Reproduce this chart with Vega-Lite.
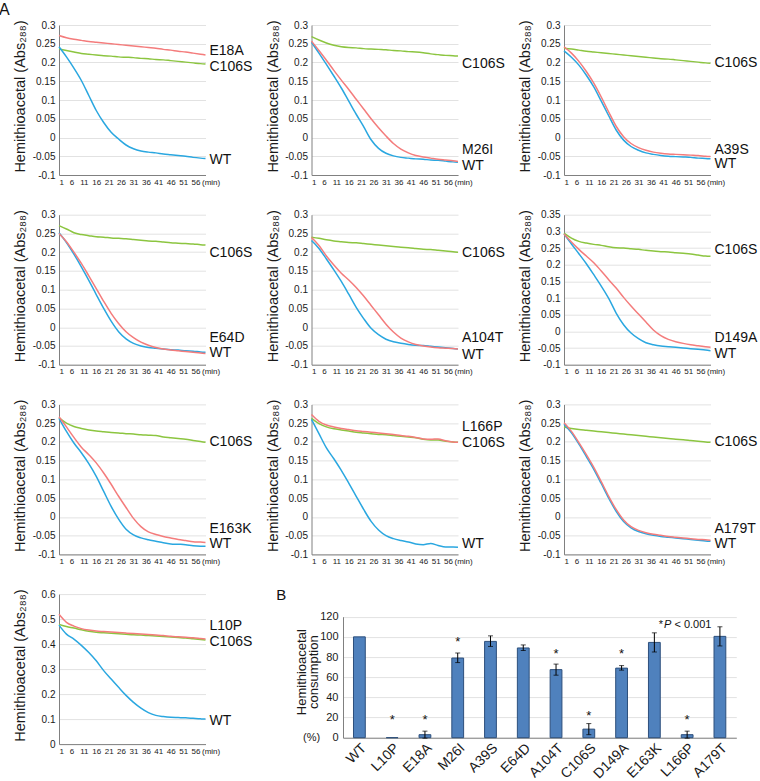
{
"$schema": "https://vega.github.io/schema/vega-lite/v6.json",
"padding": {"left": -1, "top": 1, "right": 0, "bottom": 0},
"config": {
 "font": "Liberation Sans",
 "view": {"stroke": null},
 "axis": {"ticks": false, "labelOverlap": false, "domainColor": "#808080", "domainWidth": 1, "gridColor": "#e2e2e2", "gridWidth": 1, "labelColor": "#1a1a1a", "titleColor": "#1a1a1a", "titleFontWeight": "normal", "labelFont": "Liberation Sans", "titleFont": "Liberation Sans"},
 "axisX": {"grid": false, "labelFontSize": 8, "labelPadding": 3, "titleFontSize": 8, "titleAngle": 0, "titleAlign": "left", "titleBaseline": "top", "titleX": 142.5, "titleY": 3, "labelFlush": true},
 "axisY": {"grid": true, "labelFontSize": 10, "labelPadding": 4, "titleFontSize": 14.5, "titleX": -38.5, "titleY": 71, "titleBaseline": "middle", "titleAngle": -90, "titleAlign": "center", "labelExpr": "'' + datum.value"},
 "title": {"font": "Liberation Sans", "fontWeight": "normal", "anchor": "start", "frame": "group", "color": "#111"},
 "text": {"font": "Liberation Sans", "color": "#111"}
},
"datasets": {
 "lines": [
{"p":"E18A","s":"C106S","t":1,"v":0.236},{"p":"E18A","s":"C106S","t":4,"v":0.232},{"p":"E18A","s":"C106S","t":7,"v":0.228},{"p":"E18A","s":"C106S","t":10,"v":0.224},{"p":"E18A","s":"C106S","t":13,"v":0.222},{"p":"E18A","s":"C106S","t":16,"v":0.22},{"p":"E18A","s":"C106S","t":19,"v":0.218},{"p":"E18A","s":"C106S","t":22,"v":0.217},{"p":"E18A","s":"C106S","t":25,"v":0.215},{"p":"E18A","s":"C106S","t":28,"v":0.214},{"p":"E18A","s":"C106S","t":31,"v":0.213},{"p":"E18A","s":"C106S","t":34,"v":0.211},{"p":"E18A","s":"C106S","t":37,"v":0.21},{"p":"E18A","s":"C106S","t":40,"v":0.208},{"p":"E18A","s":"C106S","t":43,"v":0.207},{"p":"E18A","s":"C106S","t":46,"v":0.205},{"p":"E18A","s":"C106S","t":49,"v":0.203},{"p":"E18A","s":"C106S","t":52,"v":0.201},{"p":"E18A","s":"C106S","t":55,"v":0.199},{"p":"E18A","s":"C106S","t":58,"v":0.197},{"p":"E18A","s":"C106S","t":60,"v":0.196},
{"p":"E18A","s":"WT","t":1,"v":0.242},{"p":"E18A","s":"WT","t":4,"v":0.215},{"p":"E18A","s":"WT","t":7,"v":0.185},{"p":"E18A","s":"WT","t":10,"v":0.152},{"p":"E18A","s":"WT","t":13,"v":0.112},{"p":"E18A","s":"WT","t":16,"v":0.072},{"p":"E18A","s":"WT","t":19,"v":0.04},{"p":"E18A","s":"WT","t":22,"v":0.014},{"p":"E18A","s":"WT","t":25,"v":-0.004},{"p":"E18A","s":"WT","t":28,"v":-0.02},{"p":"E18A","s":"WT","t":31,"v":-0.03},{"p":"E18A","s":"WT","t":34,"v":-0.036},{"p":"E18A","s":"WT","t":37,"v":-0.039},{"p":"E18A","s":"WT","t":40,"v":-0.041},{"p":"E18A","s":"WT","t":43,"v":-0.044},{"p":"E18A","s":"WT","t":46,"v":-0.046},{"p":"E18A","s":"WT","t":49,"v":-0.048},{"p":"E18A","s":"WT","t":52,"v":-0.05},{"p":"E18A","s":"WT","t":55,"v":-0.053},{"p":"E18A","s":"WT","t":58,"v":-0.055},{"p":"E18A","s":"WT","t":60,"v":-0.056},
{"p":"E18A","s":"E18A","t":1,"v":0.272},{"p":"E18A","s":"E18A","t":4,"v":0.266},{"p":"E18A","s":"E18A","t":7,"v":0.262},{"p":"E18A","s":"E18A","t":10,"v":0.259},{"p":"E18A","s":"E18A","t":13,"v":0.256},{"p":"E18A","s":"E18A","t":16,"v":0.254},{"p":"E18A","s":"E18A","t":19,"v":0.252},{"p":"E18A","s":"E18A","t":22,"v":0.25},{"p":"E18A","s":"E18A","t":25,"v":0.248},{"p":"E18A","s":"E18A","t":28,"v":0.246},{"p":"E18A","s":"E18A","t":31,"v":0.244},{"p":"E18A","s":"E18A","t":34,"v":0.242},{"p":"E18A","s":"E18A","t":37,"v":0.24},{"p":"E18A","s":"E18A","t":40,"v":0.238},{"p":"E18A","s":"E18A","t":43,"v":0.235},{"p":"E18A","s":"E18A","t":46,"v":0.233},{"p":"E18A","s":"E18A","t":49,"v":0.23},{"p":"E18A","s":"E18A","t":52,"v":0.228},{"p":"E18A","s":"E18A","t":55,"v":0.225},{"p":"E18A","s":"E18A","t":58,"v":0.222},{"p":"E18A","s":"E18A","t":60,"v":0.22},
{"p":"M26I","s":"C106S","t":1,"v":0.269},{"p":"M26I","s":"C106S","t":4,"v":0.26},{"p":"M26I","s":"C106S","t":7,"v":0.252},{"p":"M26I","s":"C106S","t":10,"v":0.246},{"p":"M26I","s":"C106S","t":13,"v":0.242},{"p":"M26I","s":"C106S","t":16,"v":0.24},{"p":"M26I","s":"C106S","t":19,"v":0.239},{"p":"M26I","s":"C106S","t":22,"v":0.237},{"p":"M26I","s":"C106S","t":25,"v":0.236},{"p":"M26I","s":"C106S","t":28,"v":0.235},{"p":"M26I","s":"C106S","t":31,"v":0.234},{"p":"M26I","s":"C106S","t":34,"v":0.232},{"p":"M26I","s":"C106S","t":37,"v":0.231},{"p":"M26I","s":"C106S","t":40,"v":0.229},{"p":"M26I","s":"C106S","t":43,"v":0.228},{"p":"M26I","s":"C106S","t":46,"v":0.226},{"p":"M26I","s":"C106S","t":49,"v":0.223},{"p":"M26I","s":"C106S","t":52,"v":0.221},{"p":"M26I","s":"C106S","t":55,"v":0.219},{"p":"M26I","s":"C106S","t":58,"v":0.218},{"p":"M26I","s":"C106S","t":60,"v":0.217},
{"p":"M26I","s":"WT","t":1,"v":0.254},{"p":"M26I","s":"WT","t":4,"v":0.225},{"p":"M26I","s":"WT","t":7,"v":0.195},{"p":"M26I","s":"WT","t":10,"v":0.164},{"p":"M26I","s":"WT","t":13,"v":0.132},{"p":"M26I","s":"WT","t":16,"v":0.097},{"p":"M26I","s":"WT","t":19,"v":0.062},{"p":"M26I","s":"WT","t":22,"v":0.029},{"p":"M26I","s":"WT","t":25,"v":-0.006},{"p":"M26I","s":"WT","t":28,"v":-0.029},{"p":"M26I","s":"WT","t":31,"v":-0.042},{"p":"M26I","s":"WT","t":34,"v":-0.049},{"p":"M26I","s":"WT","t":37,"v":-0.053},{"p":"M26I","s":"WT","t":40,"v":-0.055},{"p":"M26I","s":"WT","t":43,"v":-0.057},{"p":"M26I","s":"WT","t":46,"v":-0.058},{"p":"M26I","s":"WT","t":49,"v":-0.06},{"p":"M26I","s":"WT","t":52,"v":-0.061},{"p":"M26I","s":"WT","t":55,"v":-0.063},{"p":"M26I","s":"WT","t":58,"v":-0.065},{"p":"M26I","s":"WT","t":60,"v":-0.066},
{"p":"M26I","s":"M26I","t":1,"v":0.257},{"p":"M26I","s":"M26I","t":4,"v":0.232},{"p":"M26I","s":"M26I","t":7,"v":0.206},{"p":"M26I","s":"M26I","t":10,"v":0.179},{"p":"M26I","s":"M26I","t":13,"v":0.153},{"p":"M26I","s":"M26I","t":16,"v":0.128},{"p":"M26I","s":"M26I","t":19,"v":0.102},{"p":"M26I","s":"M26I","t":22,"v":0.076},{"p":"M26I","s":"M26I","t":25,"v":0.05},{"p":"M26I","s":"M26I","t":28,"v":0.026},{"p":"M26I","s":"M26I","t":31,"v":0.004},{"p":"M26I","s":"M26I","t":34,"v":-0.016},{"p":"M26I","s":"M26I","t":37,"v":-0.031},{"p":"M26I","s":"M26I","t":40,"v":-0.041},{"p":"M26I","s":"M26I","t":43,"v":-0.048},{"p":"M26I","s":"M26I","t":46,"v":-0.052},{"p":"M26I","s":"M26I","t":49,"v":-0.055},{"p":"M26I","s":"M26I","t":52,"v":-0.058},{"p":"M26I","s":"M26I","t":55,"v":-0.06},{"p":"M26I","s":"M26I","t":58,"v":-0.062},{"p":"M26I","s":"M26I","t":60,"v":-0.064},
{"p":"A39S","s":"C106S","t":1,"v":0.238},{"p":"A39S","s":"C106S","t":4,"v":0.236},{"p":"A39S","s":"C106S","t":7,"v":0.233},{"p":"A39S","s":"C106S","t":10,"v":0.23},{"p":"A39S","s":"C106S","t":13,"v":0.228},{"p":"A39S","s":"C106S","t":16,"v":0.226},{"p":"A39S","s":"C106S","t":19,"v":0.224},{"p":"A39S","s":"C106S","t":22,"v":0.222},{"p":"A39S","s":"C106S","t":25,"v":0.22},{"p":"A39S","s":"C106S","t":28,"v":0.218},{"p":"A39S","s":"C106S","t":31,"v":0.216},{"p":"A39S","s":"C106S","t":34,"v":0.214},{"p":"A39S","s":"C106S","t":37,"v":0.212},{"p":"A39S","s":"C106S","t":40,"v":0.21},{"p":"A39S","s":"C106S","t":43,"v":0.209},{"p":"A39S","s":"C106S","t":46,"v":0.207},{"p":"A39S","s":"C106S","t":49,"v":0.205},{"p":"A39S","s":"C106S","t":52,"v":0.203},{"p":"A39S","s":"C106S","t":55,"v":0.201},{"p":"A39S","s":"C106S","t":58,"v":0.199},{"p":"A39S","s":"C106S","t":60,"v":0.198},
{"p":"A39S","s":"WT","t":1,"v":0.231},{"p":"A39S","s":"WT","t":4,"v":0.214},{"p":"A39S","s":"WT","t":7,"v":0.193},{"p":"A39S","s":"WT","t":10,"v":0.166},{"p":"A39S","s":"WT","t":13,"v":0.135},{"p":"A39S","s":"WT","t":16,"v":0.097},{"p":"A39S","s":"WT","t":19,"v":0.058},{"p":"A39S","s":"WT","t":22,"v":0.02},{"p":"A39S","s":"WT","t":25,"v":-0.007},{"p":"A39S","s":"WT","t":28,"v":-0.024},{"p":"A39S","s":"WT","t":31,"v":-0.034},{"p":"A39S","s":"WT","t":34,"v":-0.041},{"p":"A39S","s":"WT","t":37,"v":-0.045},{"p":"A39S","s":"WT","t":40,"v":-0.048},{"p":"A39S","s":"WT","t":43,"v":-0.05},{"p":"A39S","s":"WT","t":46,"v":-0.051},{"p":"A39S","s":"WT","t":49,"v":-0.052},{"p":"A39S","s":"WT","t":52,"v":-0.053},{"p":"A39S","s":"WT","t":55,"v":-0.055},{"p":"A39S","s":"WT","t":58,"v":-0.056},{"p":"A39S","s":"WT","t":60,"v":-0.057},
{"p":"A39S","s":"A39S","t":1,"v":0.242},{"p":"A39S","s":"A39S","t":4,"v":0.225},{"p":"A39S","s":"A39S","t":7,"v":0.203},{"p":"A39S","s":"A39S","t":10,"v":0.176},{"p":"A39S","s":"A39S","t":13,"v":0.145},{"p":"A39S","s":"A39S","t":16,"v":0.108},{"p":"A39S","s":"A39S","t":19,"v":0.068},{"p":"A39S","s":"A39S","t":22,"v":0.03},{"p":"A39S","s":"A39S","t":25,"v":0.002},{"p":"A39S","s":"A39S","t":28,"v":-0.016},{"p":"A39S","s":"A39S","t":31,"v":-0.027},{"p":"A39S","s":"A39S","t":34,"v":-0.034},{"p":"A39S","s":"A39S","t":37,"v":-0.039},{"p":"A39S","s":"A39S","t":40,"v":-0.042},{"p":"A39S","s":"A39S","t":43,"v":-0.044},{"p":"A39S","s":"A39S","t":46,"v":-0.045},{"p":"A39S","s":"A39S","t":49,"v":-0.046},{"p":"A39S","s":"A39S","t":52,"v":-0.047},{"p":"A39S","s":"A39S","t":55,"v":-0.048},{"p":"A39S","s":"A39S","t":58,"v":-0.05},{"p":"A39S","s":"A39S","t":60,"v":-0.051},
{"p":"E64D","s":"C106S","t":1,"v":0.271},{"p":"E64D","s":"C106S","t":4,"v":0.262},{"p":"E64D","s":"C106S","t":7,"v":0.252},{"p":"E64D","s":"C106S","t":10,"v":0.247},{"p":"E64D","s":"C106S","t":13,"v":0.244},{"p":"E64D","s":"C106S","t":16,"v":0.241},{"p":"E64D","s":"C106S","t":19,"v":0.24},{"p":"E64D","s":"C106S","t":22,"v":0.238},{"p":"E64D","s":"C106S","t":25,"v":0.237},{"p":"E64D","s":"C106S","t":28,"v":0.236},{"p":"E64D","s":"C106S","t":31,"v":0.234},{"p":"E64D","s":"C106S","t":34,"v":0.232},{"p":"E64D","s":"C106S","t":37,"v":0.23},{"p":"E64D","s":"C106S","t":40,"v":0.229},{"p":"E64D","s":"C106S","t":43,"v":0.227},{"p":"E64D","s":"C106S","t":46,"v":0.225},{"p":"E64D","s":"C106S","t":49,"v":0.224},{"p":"E64D","s":"C106S","t":52,"v":0.223},{"p":"E64D","s":"C106S","t":55,"v":0.222},{"p":"E64D","s":"C106S","t":58,"v":0.22},{"p":"E64D","s":"C106S","t":60,"v":0.219},
{"p":"E64D","s":"WT","t":1,"v":0.252},{"p":"E64D","s":"WT","t":4,"v":0.226},{"p":"E64D","s":"WT","t":7,"v":0.195},{"p":"E64D","s":"WT","t":10,"v":0.161},{"p":"E64D","s":"WT","t":13,"v":0.125},{"p":"E64D","s":"WT","t":16,"v":0.087},{"p":"E64D","s":"WT","t":19,"v":0.05},{"p":"E64D","s":"WT","t":22,"v":0.016},{"p":"E64D","s":"WT","t":25,"v":-0.012},{"p":"E64D","s":"WT","t":28,"v":-0.031},{"p":"E64D","s":"WT","t":31,"v":-0.043},{"p":"E64D","s":"WT","t":34,"v":-0.05},{"p":"E64D","s":"WT","t":37,"v":-0.054},{"p":"E64D","s":"WT","t":40,"v":-0.056},{"p":"E64D","s":"WT","t":43,"v":-0.058},{"p":"E64D","s":"WT","t":46,"v":-0.06},{"p":"E64D","s":"WT","t":49,"v":-0.061},{"p":"E64D","s":"WT","t":52,"v":-0.063},{"p":"E64D","s":"WT","t":55,"v":-0.064},{"p":"E64D","s":"WT","t":58,"v":-0.066},{"p":"E64D","s":"WT","t":60,"v":-0.067},
{"p":"E64D","s":"E64D","t":1,"v":0.25},{"p":"E64D","s":"E64D","t":4,"v":0.228},{"p":"E64D","s":"E64D","t":7,"v":0.2},{"p":"E64D","s":"E64D","t":10,"v":0.17},{"p":"E64D","s":"E64D","t":13,"v":0.137},{"p":"E64D","s":"E64D","t":16,"v":0.103},{"p":"E64D","s":"E64D","t":19,"v":0.069},{"p":"E64D","s":"E64D","t":22,"v":0.037},{"p":"E64D","s":"E64D","t":25,"v":0.01},{"p":"E64D","s":"E64D","t":28,"v":-0.012},{"p":"E64D","s":"E64D","t":31,"v":-0.028},{"p":"E64D","s":"E64D","t":34,"v":-0.04},{"p":"E64D","s":"E64D","t":37,"v":-0.048},{"p":"E64D","s":"E64D","t":40,"v":-0.054},{"p":"E64D","s":"E64D","t":43,"v":-0.058},{"p":"E64D","s":"E64D","t":46,"v":-0.061},{"p":"E64D","s":"E64D","t":49,"v":-0.063},{"p":"E64D","s":"E64D","t":52,"v":-0.065},{"p":"E64D","s":"E64D","t":55,"v":-0.067},{"p":"E64D","s":"E64D","t":58,"v":-0.069},{"p":"E64D","s":"E64D","t":60,"v":-0.07},
{"p":"A104T","s":"C106S","t":1,"v":0.24},{"p":"A104T","s":"C106S","t":4,"v":0.237},{"p":"A104T","s":"C106S","t":7,"v":0.233},{"p":"A104T","s":"C106S","t":10,"v":0.23},{"p":"A104T","s":"C106S","t":13,"v":0.228},{"p":"A104T","s":"C106S","t":16,"v":0.226},{"p":"A104T","s":"C106S","t":19,"v":0.225},{"p":"A104T","s":"C106S","t":22,"v":0.223},{"p":"A104T","s":"C106S","t":25,"v":0.221},{"p":"A104T","s":"C106S","t":28,"v":0.219},{"p":"A104T","s":"C106S","t":31,"v":0.217},{"p":"A104T","s":"C106S","t":34,"v":0.215},{"p":"A104T","s":"C106S","t":37,"v":0.213},{"p":"A104T","s":"C106S","t":40,"v":0.212},{"p":"A104T","s":"C106S","t":43,"v":0.21},{"p":"A104T","s":"C106S","t":46,"v":0.208},{"p":"A104T","s":"C106S","t":49,"v":0.207},{"p":"A104T","s":"C106S","t":52,"v":0.205},{"p":"A104T","s":"C106S","t":55,"v":0.203},{"p":"A104T","s":"C106S","t":58,"v":0.201},{"p":"A104T","s":"C106S","t":60,"v":0.2},
{"p":"A104T","s":"WT","t":1,"v":0.231},{"p":"A104T","s":"WT","t":4,"v":0.21},{"p":"A104T","s":"WT","t":7,"v":0.182},{"p":"A104T","s":"WT","t":10,"v":0.153},{"p":"A104T","s":"WT","t":13,"v":0.122},{"p":"A104T","s":"WT","t":16,"v":0.088},{"p":"A104T","s":"WT","t":19,"v":0.053},{"p":"A104T","s":"WT","t":22,"v":0.023},{"p":"A104T","s":"WT","t":25,"v":-0.003},{"p":"A104T","s":"WT","t":28,"v":-0.02},{"p":"A104T","s":"WT","t":31,"v":-0.032},{"p":"A104T","s":"WT","t":34,"v":-0.039},{"p":"A104T","s":"WT","t":37,"v":-0.043},{"p":"A104T","s":"WT","t":40,"v":-0.046},{"p":"A104T","s":"WT","t":43,"v":-0.048},{"p":"A104T","s":"WT","t":46,"v":-0.049},{"p":"A104T","s":"WT","t":49,"v":-0.051},{"p":"A104T","s":"WT","t":52,"v":-0.053},{"p":"A104T","s":"WT","t":55,"v":-0.055},{"p":"A104T","s":"WT","t":58,"v":-0.057},{"p":"A104T","s":"WT","t":60,"v":-0.058},
{"p":"A104T","s":"A104T","t":1,"v":0.239},{"p":"A104T","s":"A104T","t":4,"v":0.218},{"p":"A104T","s":"A104T","t":7,"v":0.19},{"p":"A104T","s":"A104T","t":10,"v":0.166},{"p":"A104T","s":"A104T","t":13,"v":0.144},{"p":"A104T","s":"A104T","t":16,"v":0.126},{"p":"A104T","s":"A104T","t":19,"v":0.106},{"p":"A104T","s":"A104T","t":22,"v":0.083},{"p":"A104T","s":"A104T","t":25,"v":0.058},{"p":"A104T","s":"A104T","t":28,"v":0.033},{"p":"A104T","s":"A104T","t":31,"v":0.008},{"p":"A104T","s":"A104T","t":34,"v":-0.013},{"p":"A104T","s":"A104T","t":37,"v":-0.029},{"p":"A104T","s":"A104T","t":40,"v":-0.039},{"p":"A104T","s":"A104T","t":43,"v":-0.046},{"p":"A104T","s":"A104T","t":46,"v":-0.05},{"p":"A104T","s":"A104T","t":49,"v":-0.053},{"p":"A104T","s":"A104T","t":52,"v":-0.055},{"p":"A104T","s":"A104T","t":55,"v":-0.056},{"p":"A104T","s":"A104T","t":58,"v":-0.057},{"p":"A104T","s":"A104T","t":60,"v":-0.058},
{"p":"D149A","s":"C106S","t":1,"v":0.295},{"p":"D149A","s":"C106S","t":4,"v":0.28},{"p":"D149A","s":"C106S","t":7,"v":0.27},{"p":"D149A","s":"C106S","t":10,"v":0.265},{"p":"D149A","s":"C106S","t":13,"v":0.261},{"p":"D149A","s":"C106S","t":16,"v":0.258},{"p":"D149A","s":"C106S","t":19,"v":0.254},{"p":"D149A","s":"C106S","t":22,"v":0.251},{"p":"D149A","s":"C106S","t":25,"v":0.25},{"p":"D149A","s":"C106S","t":28,"v":0.248},{"p":"D149A","s":"C106S","t":31,"v":0.246},{"p":"D149A","s":"C106S","t":34,"v":0.243},{"p":"D149A","s":"C106S","t":37,"v":0.241},{"p":"D149A","s":"C106S","t":40,"v":0.239},{"p":"D149A","s":"C106S","t":43,"v":0.238},{"p":"D149A","s":"C106S","t":46,"v":0.236},{"p":"D149A","s":"C106S","t":49,"v":0.234},{"p":"D149A","s":"C106S","t":52,"v":0.232},{"p":"D149A","s":"C106S","t":55,"v":0.229},{"p":"D149A","s":"C106S","t":58,"v":0.226},{"p":"D149A","s":"C106S","t":60,"v":0.225},
{"p":"D149A","s":"WT","t":1,"v":0.292},{"p":"D149A","s":"WT","t":4,"v":0.262},{"p":"D149A","s":"WT","t":7,"v":0.233},{"p":"D149A","s":"WT","t":10,"v":0.203},{"p":"D149A","s":"WT","t":13,"v":0.17},{"p":"D149A","s":"WT","t":16,"v":0.136},{"p":"D149A","s":"WT","t":19,"v":0.099},{"p":"D149A","s":"WT","t":22,"v":0.055},{"p":"D149A","s":"WT","t":25,"v":0.02},{"p":"D149A","s":"WT","t":28,"v":-0.005},{"p":"D149A","s":"WT","t":31,"v":-0.022},{"p":"D149A","s":"WT","t":34,"v":-0.034},{"p":"D149A","s":"WT","t":37,"v":-0.04},{"p":"D149A","s":"WT","t":40,"v":-0.044},{"p":"D149A","s":"WT","t":43,"v":-0.046},{"p":"D149A","s":"WT","t":46,"v":-0.048},{"p":"D149A","s":"WT","t":49,"v":-0.05},{"p":"D149A","s":"WT","t":52,"v":-0.052},{"p":"D149A","s":"WT","t":55,"v":-0.054},{"p":"D149A","s":"WT","t":58,"v":-0.056},{"p":"D149A","s":"WT","t":60,"v":-0.058},
{"p":"D149A","s":"D149A","t":1,"v":0.292},{"p":"D149A","s":"D149A","t":4,"v":0.268},{"p":"D149A","s":"D149A","t":7,"v":0.246},{"p":"D149A","s":"D149A","t":10,"v":0.226},{"p":"D149A","s":"D149A","t":13,"v":0.206},{"p":"D149A","s":"D149A","t":16,"v":0.181},{"p":"D149A","s":"D149A","t":19,"v":0.155},{"p":"D149A","s":"D149A","t":22,"v":0.13},{"p":"D149A","s":"D149A","t":25,"v":0.102},{"p":"D149A","s":"D149A","t":28,"v":0.076},{"p":"D149A","s":"D149A","t":31,"v":0.052},{"p":"D149A","s":"D149A","t":34,"v":0.028},{"p":"D149A","s":"D149A","t":37,"v":0.004},{"p":"D149A","s":"D149A","t":40,"v":-0.013},{"p":"D149A","s":"D149A","t":43,"v":-0.024},{"p":"D149A","s":"D149A","t":46,"v":-0.031},{"p":"D149A","s":"D149A","t":49,"v":-0.036},{"p":"D149A","s":"D149A","t":52,"v":-0.04},{"p":"D149A","s":"D149A","t":55,"v":-0.043},{"p":"D149A","s":"D149A","t":58,"v":-0.046},{"p":"D149A","s":"D149A","t":60,"v":-0.048},
{"p":"E163K","s":"C106S","t":1,"v":0.264},{"p":"E163K","s":"C106S","t":4,"v":0.25},{"p":"E163K","s":"C106S","t":7,"v":0.241},{"p":"E163K","s":"C106S","t":10,"v":0.236},{"p":"E163K","s":"C106S","t":13,"v":0.232},{"p":"E163K","s":"C106S","t":16,"v":0.229},{"p":"E163K","s":"C106S","t":19,"v":0.227},{"p":"E163K","s":"C106S","t":22,"v":0.225},{"p":"E163K","s":"C106S","t":25,"v":0.224},{"p":"E163K","s":"C106S","t":28,"v":0.222},{"p":"E163K","s":"C106S","t":31,"v":0.221},{"p":"E163K","s":"C106S","t":34,"v":0.219},{"p":"E163K","s":"C106S","t":37,"v":0.218},{"p":"E163K","s":"C106S","t":40,"v":0.217},{"p":"E163K","s":"C106S","t":43,"v":0.213},{"p":"E163K","s":"C106S","t":46,"v":0.211},{"p":"E163K","s":"C106S","t":49,"v":0.209},{"p":"E163K","s":"C106S","t":52,"v":0.207},{"p":"E163K","s":"C106S","t":55,"v":0.204},{"p":"E163K","s":"C106S","t":58,"v":0.201},{"p":"E163K","s":"C106S","t":60,"v":0.199},
{"p":"E163K","s":"WT","t":1,"v":0.263},{"p":"E163K","s":"WT","t":4,"v":0.228},{"p":"E163K","s":"WT","t":7,"v":0.197},{"p":"E163K","s":"WT","t":10,"v":0.171},{"p":"E163K","s":"WT","t":13,"v":0.142},{"p":"E163K","s":"WT","t":16,"v":0.108},{"p":"E163K","s":"WT","t":19,"v":0.068},{"p":"E163K","s":"WT","t":22,"v":0.028},{"p":"E163K","s":"WT","t":25,"v":-0.006},{"p":"E163K","s":"WT","t":28,"v":-0.033},{"p":"E163K","s":"WT","t":31,"v":-0.048},{"p":"E163K","s":"WT","t":34,"v":-0.056},{"p":"E163K","s":"WT","t":37,"v":-0.061},{"p":"E163K","s":"WT","t":40,"v":-0.065},{"p":"E163K","s":"WT","t":43,"v":-0.069},{"p":"E163K","s":"WT","t":46,"v":-0.072},{"p":"E163K","s":"WT","t":49,"v":-0.073},{"p":"E163K","s":"WT","t":52,"v":-0.074},{"p":"E163K","s":"WT","t":55,"v":-0.077},{"p":"E163K","s":"WT","t":58,"v":-0.078},{"p":"E163K","s":"WT","t":60,"v":-0.078},
{"p":"E163K","s":"E163K","t":1,"v":0.267},{"p":"E163K","s":"E163K","t":4,"v":0.24},{"p":"E163K","s":"E163K","t":7,"v":0.212},{"p":"E163K","s":"E163K","t":10,"v":0.186},{"p":"E163K","s":"E163K","t":13,"v":0.166},{"p":"E163K","s":"E163K","t":16,"v":0.144},{"p":"E163K","s":"E163K","t":19,"v":0.117},{"p":"E163K","s":"E163K","t":22,"v":0.087},{"p":"E163K","s":"E163K","t":25,"v":0.055},{"p":"E163K","s":"E163K","t":28,"v":0.025},{"p":"E163K","s":"E163K","t":31,"v":-0.004},{"p":"E163K","s":"E163K","t":34,"v":-0.026},{"p":"E163K","s":"E163K","t":37,"v":-0.04},{"p":"E163K","s":"E163K","t":40,"v":-0.047},{"p":"E163K","s":"E163K","t":43,"v":-0.052},{"p":"E163K","s":"E163K","t":46,"v":-0.056},{"p":"E163K","s":"E163K","t":49,"v":-0.06},{"p":"E163K","s":"E163K","t":52,"v":-0.063},{"p":"E163K","s":"E163K","t":55,"v":-0.066},{"p":"E163K","s":"E163K","t":58,"v":-0.067},{"p":"E163K","s":"E163K","t":60,"v":-0.068},
{"p":"L166P","s":"C106S","t":1,"v":0.263},{"p":"L166P","s":"C106S","t":4,"v":0.249},{"p":"L166P","s":"C106S","t":7,"v":0.24},{"p":"L166P","s":"C106S","t":10,"v":0.235},{"p":"L166P","s":"C106S","t":13,"v":0.232},{"p":"L166P","s":"C106S","t":16,"v":0.229},{"p":"L166P","s":"C106S","t":19,"v":0.226},{"p":"L166P","s":"C106S","t":22,"v":0.224},{"p":"L166P","s":"C106S","t":25,"v":0.222},{"p":"L166P","s":"C106S","t":28,"v":0.22},{"p":"L166P","s":"C106S","t":31,"v":0.219},{"p":"L166P","s":"C106S","t":34,"v":0.217},{"p":"L166P","s":"C106S","t":37,"v":0.215},{"p":"L166P","s":"C106S","t":40,"v":0.213},{"p":"L166P","s":"C106S","t":43,"v":0.211},{"p":"L166P","s":"C106S","t":46,"v":0.207},{"p":"L166P","s":"C106S","t":49,"v":0.205},{"p":"L166P","s":"C106S","t":52,"v":0.205},{"p":"L166P","s":"C106S","t":55,"v":0.202},{"p":"L166P","s":"C106S","t":58,"v":0.2},{"p":"L166P","s":"C106S","t":60,"v":0.199},
{"p":"L166P","s":"WT","t":1,"v":0.26},{"p":"L166P","s":"WT","t":4,"v":0.222},{"p":"L166P","s":"WT","t":7,"v":0.184},{"p":"L166P","s":"WT","t":10,"v":0.155},{"p":"L166P","s":"WT","t":13,"v":0.124},{"p":"L166P","s":"WT","t":16,"v":0.09},{"p":"L166P","s":"WT","t":19,"v":0.055},{"p":"L166P","s":"WT","t":22,"v":0.02},{"p":"L166P","s":"WT","t":25,"v":-0.012},{"p":"L166P","s":"WT","t":28,"v":-0.035},{"p":"L166P","s":"WT","t":31,"v":-0.05},{"p":"L166P","s":"WT","t":34,"v":-0.058},{"p":"L166P","s":"WT","t":37,"v":-0.063},{"p":"L166P","s":"WT","t":40,"v":-0.067},{"p":"L166P","s":"WT","t":43,"v":-0.072},{"p":"L166P","s":"WT","t":46,"v":-0.074},{"p":"L166P","s":"WT","t":49,"v":-0.071},{"p":"L166P","s":"WT","t":52,"v":-0.076},{"p":"L166P","s":"WT","t":55,"v":-0.08},{"p":"L166P","s":"WT","t":58,"v":-0.08},{"p":"L166P","s":"WT","t":60,"v":-0.081},
{"p":"L166P","s":"L166P","t":1,"v":0.273},{"p":"L166P","s":"L166P","t":4,"v":0.255},{"p":"L166P","s":"L166P","t":7,"v":0.245},{"p":"L166P","s":"L166P","t":10,"v":0.24},{"p":"L166P","s":"L166P","t":13,"v":0.236},{"p":"L166P","s":"L166P","t":16,"v":0.233},{"p":"L166P","s":"L166P","t":19,"v":0.23},{"p":"L166P","s":"L166P","t":22,"v":0.228},{"p":"L166P","s":"L166P","t":25,"v":0.226},{"p":"L166P","s":"L166P","t":28,"v":0.224},{"p":"L166P","s":"L166P","t":31,"v":0.222},{"p":"L166P","s":"L166P","t":34,"v":0.22},{"p":"L166P","s":"L166P","t":37,"v":0.217},{"p":"L166P","s":"L166P","t":40,"v":0.215},{"p":"L166P","s":"L166P","t":43,"v":0.212},{"p":"L166P","s":"L166P","t":46,"v":0.208},{"p":"L166P","s":"L166P","t":49,"v":0.207},{"p":"L166P","s":"L166P","t":52,"v":0.208},{"p":"L166P","s":"L166P","t":55,"v":0.203},{"p":"L166P","s":"L166P","t":58,"v":0.2},{"p":"L166P","s":"L166P","t":60,"v":0.199},
{"p":"A179T","s":"C106S","t":1,"v":0.24},{"p":"A179T","s":"C106S","t":4,"v":0.236},{"p":"A179T","s":"C106S","t":7,"v":0.233},{"p":"A179T","s":"C106S","t":10,"v":0.231},{"p":"A179T","s":"C106S","t":13,"v":0.229},{"p":"A179T","s":"C106S","t":16,"v":0.227},{"p":"A179T","s":"C106S","t":19,"v":0.225},{"p":"A179T","s":"C106S","t":22,"v":0.223},{"p":"A179T","s":"C106S","t":25,"v":0.221},{"p":"A179T","s":"C106S","t":28,"v":0.219},{"p":"A179T","s":"C106S","t":31,"v":0.217},{"p":"A179T","s":"C106S","t":34,"v":0.215},{"p":"A179T","s":"C106S","t":37,"v":0.213},{"p":"A179T","s":"C106S","t":40,"v":0.211},{"p":"A179T","s":"C106S","t":43,"v":0.209},{"p":"A179T","s":"C106S","t":46,"v":0.207},{"p":"A179T","s":"C106S","t":49,"v":0.206},{"p":"A179T","s":"C106S","t":52,"v":0.204},{"p":"A179T","s":"C106S","t":55,"v":0.202},{"p":"A179T","s":"C106S","t":58,"v":0.2},{"p":"A179T","s":"C106S","t":60,"v":0.199},
{"p":"A179T","s":"WT","t":1,"v":0.247},{"p":"A179T","s":"WT","t":4,"v":0.224},{"p":"A179T","s":"WT","t":7,"v":0.194},{"p":"A179T","s":"WT","t":10,"v":0.161},{"p":"A179T","s":"WT","t":13,"v":0.127},{"p":"A179T","s":"WT","t":16,"v":0.089},{"p":"A179T","s":"WT","t":19,"v":0.05},{"p":"A179T","s":"WT","t":22,"v":0.015},{"p":"A179T","s":"WT","t":25,"v":-0.012},{"p":"A179T","s":"WT","t":28,"v":-0.029},{"p":"A179T","s":"WT","t":31,"v":-0.039},{"p":"A179T","s":"WT","t":34,"v":-0.045},{"p":"A179T","s":"WT","t":37,"v":-0.049},{"p":"A179T","s":"WT","t":40,"v":-0.052},{"p":"A179T","s":"WT","t":43,"v":-0.054},{"p":"A179T","s":"WT","t":46,"v":-0.056},{"p":"A179T","s":"WT","t":49,"v":-0.058},{"p":"A179T","s":"WT","t":52,"v":-0.06},{"p":"A179T","s":"WT","t":55,"v":-0.062},{"p":"A179T","s":"WT","t":58,"v":-0.064},{"p":"A179T","s":"WT","t":60,"v":-0.065},
{"p":"A179T","s":"A179T","t":1,"v":0.251},{"p":"A179T","s":"A179T","t":4,"v":0.228},{"p":"A179T","s":"A179T","t":7,"v":0.198},{"p":"A179T","s":"A179T","t":10,"v":0.166},{"p":"A179T","s":"A179T","t":13,"v":0.132},{"p":"A179T","s":"A179T","t":16,"v":0.094},{"p":"A179T","s":"A179T","t":19,"v":0.055},{"p":"A179T","s":"A179T","t":22,"v":0.02},{"p":"A179T","s":"A179T","t":25,"v":-0.008},{"p":"A179T","s":"A179T","t":28,"v":-0.026},{"p":"A179T","s":"A179T","t":31,"v":-0.036},{"p":"A179T","s":"A179T","t":34,"v":-0.042},{"p":"A179T","s":"A179T","t":37,"v":-0.046},{"p":"A179T","s":"A179T","t":40,"v":-0.049},{"p":"A179T","s":"A179T","t":43,"v":-0.052},{"p":"A179T","s":"A179T","t":46,"v":-0.054},{"p":"A179T","s":"A179T","t":49,"v":-0.056},{"p":"A179T","s":"A179T","t":52,"v":-0.058},{"p":"A179T","s":"A179T","t":55,"v":-0.06},{"p":"A179T","s":"A179T","t":58,"v":-0.061},{"p":"A179T","s":"A179T","t":60,"v":-0.062},
{"p":"L10P","s":"C106S","t":1,"v":0.479},{"p":"L10P","s":"C106S","t":4,"v":0.47},{"p":"L10P","s":"C106S","t":7,"v":0.464},{"p":"L10P","s":"C106S","t":10,"v":0.457},{"p":"L10P","s":"C106S","t":13,"v":0.451},{"p":"L10P","s":"C106S","t":16,"v":0.447},{"p":"L10P","s":"C106S","t":19,"v":0.445},{"p":"L10P","s":"C106S","t":22,"v":0.443},{"p":"L10P","s":"C106S","t":25,"v":0.441},{"p":"L10P","s":"C106S","t":28,"v":0.439},{"p":"L10P","s":"C106S","t":31,"v":0.437},{"p":"L10P","s":"C106S","t":34,"v":0.436},{"p":"L10P","s":"C106S","t":37,"v":0.434},{"p":"L10P","s":"C106S","t":40,"v":0.432},{"p":"L10P","s":"C106S","t":43,"v":0.43},{"p":"L10P","s":"C106S","t":46,"v":0.428},{"p":"L10P","s":"C106S","t":49,"v":0.426},{"p":"L10P","s":"C106S","t":52,"v":0.424},{"p":"L10P","s":"C106S","t":55,"v":0.421},{"p":"L10P","s":"C106S","t":58,"v":0.418},{"p":"L10P","s":"C106S","t":60,"v":0.416},
{"p":"L10P","s":"WT","t":1,"v":0.476},{"p":"L10P","s":"WT","t":4,"v":0.44},{"p":"L10P","s":"WT","t":7,"v":0.42},{"p":"L10P","s":"WT","t":10,"v":0.395},{"p":"L10P","s":"WT","t":13,"v":0.366},{"p":"L10P","s":"WT","t":16,"v":0.333},{"p":"L10P","s":"WT","t":19,"v":0.294},{"p":"L10P","s":"WT","t":22,"v":0.26},{"p":"L10P","s":"WT","t":25,"v":0.227},{"p":"L10P","s":"WT","t":28,"v":0.195},{"p":"L10P","s":"WT","t":31,"v":0.167},{"p":"L10P","s":"WT","t":34,"v":0.144},{"p":"L10P","s":"WT","t":37,"v":0.126},{"p":"L10P","s":"WT","t":40,"v":0.115},{"p":"L10P","s":"WT","t":43,"v":0.11},{"p":"L10P","s":"WT","t":46,"v":0.107},{"p":"L10P","s":"WT","t":49,"v":0.106},{"p":"L10P","s":"WT","t":52,"v":0.105},{"p":"L10P","s":"WT","t":55,"v":0.103},{"p":"L10P","s":"WT","t":58,"v":0.101},{"p":"L10P","s":"WT","t":60,"v":0.1},
{"p":"L10P","s":"L10P","t":1,"v":0.519},{"p":"L10P","s":"L10P","t":4,"v":0.487},{"p":"L10P","s":"L10P","t":7,"v":0.472},{"p":"L10P","s":"L10P","t":10,"v":0.462},{"p":"L10P","s":"L10P","t":13,"v":0.456},{"p":"L10P","s":"L10P","t":16,"v":0.452},{"p":"L10P","s":"L10P","t":19,"v":0.45},{"p":"L10P","s":"L10P","t":22,"v":0.448},{"p":"L10P","s":"L10P","t":25,"v":0.446},{"p":"L10P","s":"L10P","t":28,"v":0.444},{"p":"L10P","s":"L10P","t":31,"v":0.442},{"p":"L10P","s":"L10P","t":34,"v":0.44},{"p":"L10P","s":"L10P","t":37,"v":0.438},{"p":"L10P","s":"L10P","t":40,"v":0.436},{"p":"L10P","s":"L10P","t":43,"v":0.434},{"p":"L10P","s":"L10P","t":46,"v":0.431},{"p":"L10P","s":"L10P","t":49,"v":0.429},{"p":"L10P","s":"L10P","t":52,"v":0.427},{"p":"L10P","s":"L10P","t":55,"v":0.425},{"p":"L10P","s":"L10P","t":58,"v":0.422},{"p":"L10P","s":"L10P","t":60,"v":0.42}
 ],
 "labels": [
{"p":"E18A","s":"E18A","v":0.232},{"p":"E18A","s":"C106S","v":0.187},{"p":"E18A","s":"WT","v":-0.06},
{"p":"M26I","s":"C106S","v":0.196},{"p":"M26I","s":"M26I","v":-0.033},{"p":"M26I","s":"WT","v":-0.075},
{"p":"A39S","s":"C106S","v":0.199},{"p":"A39S","s":"A39S","v":-0.032},{"p":"A39S","s":"WT","v":-0.071},
{"p":"E64D","s":"C106S","v":0.198},{"p":"E64D","s":"E64D","v":-0.029},{"p":"E64D","s":"WT","v":-0.07},
{"p":"A104T","s":"C106S","v":0.198},{"p":"A104T","s":"A104T","v":-0.029},{"p":"A104T","s":"WT","v":-0.073},
{"p":"D149A","s":"C106S","v":0.245},{"p":"D149A","s":"D149A","v":-0.02},{"p":"D149A","s":"WT","v":-0.067},
{"p":"E163K","s":"C106S","v":0.199},{"p":"E163K","s":"E163K","v":-0.032},{"p":"E163K","s":"WT","v":-0.071},
{"p":"L166P","s":"L166P","v":0.24},{"p":"L166P","s":"C106S","v":0.196},{"p":"L166P","s":"WT","v":-0.071},
{"p":"A179T","s":"C106S","v":0.2},{"p":"A179T","s":"A179T","v":-0.031},{"p":"A179T","s":"WT","v":-0.071},
{"p":"L10P","s":"L10P","v":0.471},{"p":"L10P","s":"C106S","v":0.407},{"p":"L10P","s":"WT","v":0.093}
 ],
 "bars": [
{"m":"WT","v":100,"lo":null,"hi":null,"sy":null},
{"m":"L10P","v":0,"lo":null,"hi":null,"sy":21.4},
{"m":"E18A","v":3,"lo":-0.5,"hi":6.5,"sy":21.4},
{"m":"M26I","v":79,"lo":74.5,"hi":84,"sy":98.5},
{"m":"A39S","v":95.5,"lo":90.5,"hi":101,"sy":null},
{"m":"E64D","v":89,"lo":86.5,"hi":92,"sy":null},
{"m":"A104T","v":67.5,"lo":62,"hi":73,"sy":86},
{"m":"C106S","v":8.5,"lo":3,"hi":14,"sy":25},
{"m":"D149A","v":69,"lo":67,"hi":71.5,"sy":86},
{"m":"E163K","v":94.5,"lo":85,"hi":104,"sy":null},
{"m":"L166P","v":3,"lo":-0.5,"hi":6.5,"sy":21.4},
{"m":"A179T","v":100.5,"lo":91,"hi":110,"sy":null}
 ],
 "note": [{"m":"A179T","y":108.4}]
},
"spacing": 22.7,
"vconcat": [
{"spacing": 11.5, "hconcat": [
 {"width":146.5,"height":150,"title":{"text":"A","fontSize":16,"dx":-60,"offset":2},"layer":[
  {"data":{"name":"lines"},"transform":[{"filter":"datum.p==='E18A'"}],"mark":{"type":"line","strokeWidth":1.5,"interpolate":"monotone"},
   "encoding":{"x":{"field":"t","type":"quantitative","scale":{"domain":[1,60],"nice":false,"zero":false},"axis":{"values":[1,6,11,16,21,26,31,36,41,46,51,56],"tickCount":50,"labelOverlap":false,"title":"(min)"}},
    "y":{"field":"v","type":"quantitative","scale":{"domain":[-0.1,0.3],"nice":false,"zero":false},"axis":{"values":[-0.1,-0.05,0,0.05,0.1,0.15,0.2,0.25,0.3],"tickCount":50,"labelOverlap":false,"title":"Hemithioacetal (Abs₂₈₈)"}},
    "color":{"field":"s","type":"nominal","scale":{"domain":["WT","C106S","E18A","M26I","A39S","E64D","A104T","D149A","E163K","L166P","A179T","L10P"],"range":["#2aa7e0","#8cc540","#f47c7c","#f47c7c","#f47c7c","#f47c7c","#f47c7c","#f47c7c","#f47c7c","#f47c7c","#f47c7c","#f47c7c"]},"legend":null}}},
  {"data":{"name":"labels"},"transform":[{"filter":"datum.p==='E18A'"}],"mark":{"type":"text","align":"left","baseline":"middle","dx":4,"fontSize":14},
   "encoding":{"x":{"datum":60},"y":{"field":"v","type":"quantitative"},"text":{"field":"s"}}}]},
 {"width":146.5,"height":150,"layer":[
  {"data":{"name":"lines"},"transform":[{"filter":"datum.p==='M26I'"}],"mark":{"type":"line","strokeWidth":1.5,"interpolate":"monotone"},
   "encoding":{"x":{"field":"t","type":"quantitative","scale":{"domain":[1,60],"nice":false,"zero":false},"axis":{"values":[1,6,11,16,21,26,31,36,41,46,51,56],"tickCount":50,"labelOverlap":false,"title":"(min)"}},
    "y":{"field":"v","type":"quantitative","scale":{"domain":[-0.1,0.3],"nice":false,"zero":false},"axis":{"values":[-0.1,-0.05,0,0.05,0.1,0.15,0.2,0.25,0.3],"tickCount":50,"labelOverlap":false,"title":"Hemithioacetal (Abs₂₈₈)"}},
    "color":{"field":"s","type":"nominal","scale":{"domain":["WT","C106S","E18A","M26I","A39S","E64D","A104T","D149A","E163K","L166P","A179T","L10P"],"range":["#2aa7e0","#8cc540","#f47c7c","#f47c7c","#f47c7c","#f47c7c","#f47c7c","#f47c7c","#f47c7c","#f47c7c","#f47c7c","#f47c7c"]},"legend":null}}},
  {"data":{"name":"labels"},"transform":[{"filter":"datum.p==='M26I'"}],"mark":{"type":"text","align":"left","baseline":"middle","dx":4,"fontSize":14},
   "encoding":{"x":{"datum":60},"y":{"field":"v","type":"quantitative"},"text":{"field":"s"}}}]},
 {"width":146.5,"height":150,"layer":[
  {"data":{"name":"lines"},"transform":[{"filter":"datum.p==='A39S'"}],"mark":{"type":"line","strokeWidth":1.5,"interpolate":"monotone"},
   "encoding":{"x":{"field":"t","type":"quantitative","scale":{"domain":[1,60],"nice":false,"zero":false},"axis":{"values":[1,6,11,16,21,26,31,36,41,46,51,56],"tickCount":50,"labelOverlap":false,"title":"(min)"}},
    "y":{"field":"v","type":"quantitative","scale":{"domain":[-0.1,0.3],"nice":false,"zero":false},"axis":{"values":[-0.1,-0.05,0,0.05,0.1,0.15,0.2,0.25,0.3],"tickCount":50,"labelOverlap":false,"title":"Hemithioacetal (Abs₂₈₈)"}},
    "color":{"field":"s","type":"nominal","scale":{"domain":["WT","C106S","E18A","M26I","A39S","E64D","A104T","D149A","E163K","L166P","A179T","L10P"],"range":["#2aa7e0","#8cc540","#f47c7c","#f47c7c","#f47c7c","#f47c7c","#f47c7c","#f47c7c","#f47c7c","#f47c7c","#f47c7c","#f47c7c"]},"legend":null}}},
  {"data":{"name":"labels"},"transform":[{"filter":"datum.p==='A39S'"}],"mark":{"type":"text","align":"left","baseline":"middle","dx":4,"fontSize":14},
   "encoding":{"x":{"datum":60},"y":{"field":"v","type":"quantitative"},"text":{"field":"s"}}}]}
]},
{"spacing": 11.5, "hconcat": [
 {"width":146.5,"height":150,"layer":[
  {"data":{"name":"lines"},"transform":[{"filter":"datum.p==='E64D'"}],"mark":{"type":"line","strokeWidth":1.5,"interpolate":"monotone"},
   "encoding":{"x":{"field":"t","type":"quantitative","scale":{"domain":[1,60],"nice":false,"zero":false},"axis":{"values":[1,6,11,16,21,26,31,36,41,46,51,56],"tickCount":50,"labelOverlap":false,"title":"(min)"}},
    "y":{"field":"v","type":"quantitative","scale":{"domain":[-0.1,0.3],"nice":false,"zero":false},"axis":{"values":[-0.1,-0.05,0,0.05,0.1,0.15,0.2,0.25,0.3],"tickCount":50,"labelOverlap":false,"title":"Hemithioacetal (Abs₂₈₈)"}},
    "color":{"field":"s","type":"nominal","scale":{"domain":["WT","C106S","E18A","M26I","A39S","E64D","A104T","D149A","E163K","L166P","A179T","L10P"],"range":["#2aa7e0","#8cc540","#f47c7c","#f47c7c","#f47c7c","#f47c7c","#f47c7c","#f47c7c","#f47c7c","#f47c7c","#f47c7c","#f47c7c"]},"legend":null}}},
  {"data":{"name":"labels"},"transform":[{"filter":"datum.p==='E64D'"}],"mark":{"type":"text","align":"left","baseline":"middle","dx":4,"fontSize":14},
   "encoding":{"x":{"datum":60},"y":{"field":"v","type":"quantitative"},"text":{"field":"s"}}}]},
 {"width":146.5,"height":150,"layer":[
  {"data":{"name":"lines"},"transform":[{"filter":"datum.p==='A104T'"}],"mark":{"type":"line","strokeWidth":1.5,"interpolate":"monotone"},
   "encoding":{"x":{"field":"t","type":"quantitative","scale":{"domain":[1,60],"nice":false,"zero":false},"axis":{"values":[1,6,11,16,21,26,31,36,41,46,51,56],"tickCount":50,"labelOverlap":false,"title":"(min)"}},
    "y":{"field":"v","type":"quantitative","scale":{"domain":[-0.1,0.3],"nice":false,"zero":false},"axis":{"values":[-0.1,-0.05,0,0.05,0.1,0.15,0.2,0.25,0.3],"tickCount":50,"labelOverlap":false,"title":"Hemithioacetal (Abs₂₈₈)"}},
    "color":{"field":"s","type":"nominal","scale":{"domain":["WT","C106S","E18A","M26I","A39S","E64D","A104T","D149A","E163K","L166P","A179T","L10P"],"range":["#2aa7e0","#8cc540","#f47c7c","#f47c7c","#f47c7c","#f47c7c","#f47c7c","#f47c7c","#f47c7c","#f47c7c","#f47c7c","#f47c7c"]},"legend":null}}},
  {"data":{"name":"labels"},"transform":[{"filter":"datum.p==='A104T'"}],"mark":{"type":"text","align":"left","baseline":"middle","dx":4,"fontSize":14},
   "encoding":{"x":{"datum":60},"y":{"field":"v","type":"quantitative"},"text":{"field":"s"}}}]},
 {"width":146.5,"height":150,"layer":[
  {"data":{"name":"lines"},"transform":[{"filter":"datum.p==='D149A'"}],"mark":{"type":"line","strokeWidth":1.5,"interpolate":"monotone"},
   "encoding":{"x":{"field":"t","type":"quantitative","scale":{"domain":[1,60],"nice":false,"zero":false},"axis":{"values":[1,6,11,16,21,26,31,36,41,46,51,56],"tickCount":50,"labelOverlap":false,"title":"(min)"}},
    "y":{"field":"v","type":"quantitative","scale":{"domain":[-0.1,0.35],"nice":false,"zero":false},"axis":{"values":[-0.1,-0.05,0,0.05,0.1,0.15,0.2,0.25,0.3,0.35],"tickCount":50,"labelOverlap":false,"title":"Hemithioacetal (Abs₂₈₈)"}},
    "color":{"field":"s","type":"nominal","scale":{"domain":["WT","C106S","E18A","M26I","A39S","E64D","A104T","D149A","E163K","L166P","A179T","L10P"],"range":["#2aa7e0","#8cc540","#f47c7c","#f47c7c","#f47c7c","#f47c7c","#f47c7c","#f47c7c","#f47c7c","#f47c7c","#f47c7c","#f47c7c"]},"legend":null}}},
  {"data":{"name":"labels"},"transform":[{"filter":"datum.p==='D149A'"}],"mark":{"type":"text","align":"left","baseline":"middle","dx":4,"fontSize":14},
   "encoding":{"x":{"datum":60},"y":{"field":"v","type":"quantitative"},"text":{"field":"s"}}}]}
]},
{"spacing": 11.5, "hconcat": [
 {"width":146.5,"height":150,"layer":[
  {"data":{"name":"lines"},"transform":[{"filter":"datum.p==='E163K'"}],"mark":{"type":"line","strokeWidth":1.5,"interpolate":"monotone"},
   "encoding":{"x":{"field":"t","type":"quantitative","scale":{"domain":[1,60],"nice":false,"zero":false},"axis":{"values":[1,6,11,16,21,26,31,36,41,46,51,56],"tickCount":50,"labelOverlap":false,"title":"(min)"}},
    "y":{"field":"v","type":"quantitative","scale":{"domain":[-0.1,0.3],"nice":false,"zero":false},"axis":{"values":[-0.1,-0.05,0,0.05,0.1,0.15,0.2,0.25,0.3],"tickCount":50,"labelOverlap":false,"title":"Hemithioacetal (Abs₂₈₈)"}},
    "color":{"field":"s","type":"nominal","scale":{"domain":["WT","C106S","E18A","M26I","A39S","E64D","A104T","D149A","E163K","L166P","A179T","L10P"],"range":["#2aa7e0","#8cc540","#f47c7c","#f47c7c","#f47c7c","#f47c7c","#f47c7c","#f47c7c","#f47c7c","#f47c7c","#f47c7c","#f47c7c"]},"legend":null}}},
  {"data":{"name":"labels"},"transform":[{"filter":"datum.p==='E163K'"}],"mark":{"type":"text","align":"left","baseline":"middle","dx":4,"fontSize":14},
   "encoding":{"x":{"datum":60},"y":{"field":"v","type":"quantitative"},"text":{"field":"s"}}}]},
 {"width":146.5,"height":150,"layer":[
  {"data":{"name":"lines"},"transform":[{"filter":"datum.p==='L166P'"}],"mark":{"type":"line","strokeWidth":1.5,"interpolate":"monotone"},
   "encoding":{"x":{"field":"t","type":"quantitative","scale":{"domain":[1,60],"nice":false,"zero":false},"axis":{"values":[1,6,11,16,21,26,31,36,41,46,51,56],"tickCount":50,"labelOverlap":false,"title":"(min)"}},
    "y":{"field":"v","type":"quantitative","scale":{"domain":[-0.1,0.3],"nice":false,"zero":false},"axis":{"values":[-0.1,-0.05,0,0.05,0.1,0.15,0.2,0.25,0.3],"tickCount":50,"labelOverlap":false,"title":"Hemithioacetal (Abs₂₈₈)"}},
    "color":{"field":"s","type":"nominal","scale":{"domain":["WT","C106S","E18A","M26I","A39S","E64D","A104T","D149A","E163K","L166P","A179T","L10P"],"range":["#2aa7e0","#8cc540","#f47c7c","#f47c7c","#f47c7c","#f47c7c","#f47c7c","#f47c7c","#f47c7c","#f47c7c","#f47c7c","#f47c7c"]},"legend":null}}},
  {"data":{"name":"labels"},"transform":[{"filter":"datum.p==='L166P'"}],"mark":{"type":"text","align":"left","baseline":"middle","dx":4,"fontSize":14},
   "encoding":{"x":{"datum":60},"y":{"field":"v","type":"quantitative"},"text":{"field":"s"}}}]},
 {"width":146.5,"height":150,"layer":[
  {"data":{"name":"lines"},"transform":[{"filter":"datum.p==='A179T'"}],"mark":{"type":"line","strokeWidth":1.5,"interpolate":"monotone"},
   "encoding":{"x":{"field":"t","type":"quantitative","scale":{"domain":[1,60],"nice":false,"zero":false},"axis":{"values":[1,6,11,16,21,26,31,36,41,46,51,56],"tickCount":50,"labelOverlap":false,"title":"(min)"}},
    "y":{"field":"v","type":"quantitative","scale":{"domain":[-0.1,0.3],"nice":false,"zero":false},"axis":{"values":[-0.1,-0.05,0,0.05,0.1,0.15,0.2,0.25,0.3],"tickCount":50,"labelOverlap":false,"title":"Hemithioacetal (Abs₂₈₈)"}},
    "color":{"field":"s","type":"nominal","scale":{"domain":["WT","C106S","E18A","M26I","A39S","E64D","A104T","D149A","E163K","L166P","A179T","L10P"],"range":["#2aa7e0","#8cc540","#f47c7c","#f47c7c","#f47c7c","#f47c7c","#f47c7c","#f47c7c","#f47c7c","#f47c7c","#f47c7c","#f47c7c"]},"legend":null}}},
  {"data":{"name":"labels"},"transform":[{"filter":"datum.p==='A179T'"}],"mark":{"type":"text","align":"left","baseline":"middle","dx":4,"fontSize":14},
   "encoding":{"x":{"datum":60},"y":{"field":"v","type":"quantitative"},"text":{"field":"s"}}}]}
]},
{"spacing": 23, "hconcat": [
 {"width":146.5,"height":150,"layer":[
  {"data":{"name":"lines"},"transform":[{"filter":"datum.p==='L10P'"}],"mark":{"type":"line","strokeWidth":1.5,"interpolate":"monotone"},
   "encoding":{"x":{"field":"t","type":"quantitative","scale":{"domain":[1,60],"nice":false,"zero":false},"axis":{"values":[1,6,11,16,21,26,31,36,41,46,51,56],"tickCount":50,"labelOverlap":false,"title":"(min)"}},
    "y":{"field":"v","type":"quantitative","scale":{"domain":[0,0.6],"nice":false,"zero":false},"axis":{"values":[0,0.1,0.2,0.3,0.4,0.5,0.6],"tickCount":50,"labelOverlap":false,"title":"Hemithioacetal (Abs₂₈₈)"}},
    "color":{"field":"s","type":"nominal","scale":{"domain":["WT","C106S","E18A","M26I","A39S","E64D","A104T","D149A","E163K","L166P","A179T","L10P"],"range":["#2aa7e0","#8cc540","#f47c7c","#f47c7c","#f47c7c","#f47c7c","#f47c7c","#f47c7c","#f47c7c","#f47c7c","#f47c7c","#f47c7c"]},"legend":null}}},
  {"data":{"name":"labels"},"transform":[{"filter":"datum.p==='L10P'"}],"mark":{"type":"text","align":"left","baseline":"middle","dx":4,"fontSize":14},
   "encoding":{"x":{"datum":60},"y":{"field":"v","type":"quantitative"},"text":{"field":"s"}}}]},
 {"width":393.3,"height":143.6,
  "title":{"text":"B","fontSize":15,"dx":-66.7,"offset":-9},
  "data":{"name":"bars"},
  "encoding":{"x":{"field":"m","type":"nominal","sort":null,"scale":{"paddingInner":0.64,"paddingOuter":0.32},"axis":{"title":null,"labelAngle":-45,"labelFontSize":14,"labelPadding":3,"labelFlush":false,"labelOverlap":false}}},
  "layer":[
   {"mark":{"type":"bar","fill":"#4f81bd","stroke":"#2d4f7c","strokeWidth":1},
    "encoding":{"y":{"field":"v","type":"quantitative","scale":{"domain":[0,120],"range":[143.6,22.6],"nice":false,"zero":false},
     "axis":{"values":[0,20,40,60,80,100,120],"tickCount":50,"labelOverlap":false,"title":["Hemithioacetal","consumption"],"titleFontSize":13,"titleLineHeight":12,"titleX":-42,"titleY":77.6,"labelFontSize":11,"labelPadding":5,"labelExpr":"datum.value === 0 ? '(%)\u00a0\u00a0\u00a0\u00a00' : datum.label"}}}},
   {"transform":[{"filter":"datum.lo != null"}],"mark":{"type":"rule","color":"#000","strokeWidth":1},"encoding":{"y":{"field":"lo","type":"quantitative"},"y2":{"field":"hi"}}},
   {"transform":[{"filter":"datum.lo != null"}],"mark":{"type":"tick","orient":"horizontal","size":5,"thickness":1,"color":"#000"},"encoding":{"y":{"field":"lo","type":"quantitative"}}},
   {"transform":[{"filter":"datum.hi != null"}],"mark":{"type":"tick","orient":"horizontal","size":5,"thickness":1,"color":"#000"},"encoding":{"y":{"field":"hi","type":"quantitative"}}},
   {"transform":[{"filter":"datum.sy != null"}],"mark":{"type":"text","text":"*","fontSize":13,"baseline":"alphabetic","dy":7.5},"encoding":{"y":{"field":"sy","type":"quantitative"}}},
   {"data":{"name":"note"},"mark":{"type":"text","text":"*","fontSize":11,"align":"right","baseline":"alphabetic","dx":-57},"encoding":{"y":{"field":"y","type":"quantitative"}}},
   {"data":{"name":"note"},"mark":{"type":"text","text":"P","fontSize":11,"fontStyle":"italic","align":"right","baseline":"alphabetic","dx":-48.5},"encoding":{"y":{"field":"y","type":"quantitative"}}},
   {"data":{"name":"note"},"mark":{"type":"text","text":"< 0.001","fontSize":11,"align":"left","baseline":"alphabetic","dx":-45.5},"encoding":{"y":{"field":"y","type":"quantitative"}}}
  ]}
]}
]
}
